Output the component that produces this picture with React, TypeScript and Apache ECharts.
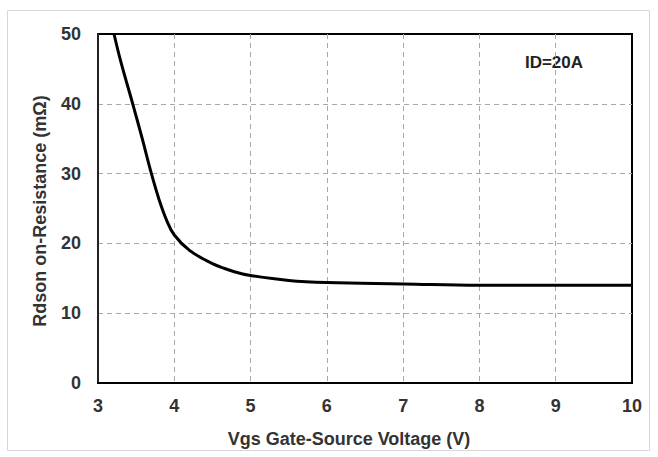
import React, { useEffect, useRef } from "react";
import * as echarts from "echarts";

const vgs = [3.21, 3.3, 3.455, 3.58, 3.7, 3.8, 3.9, 4.0, 4.2, 4.5, 4.8, 5.0, 5.5, 6.0, 7.0, 8.0, 9.0, 10.0];
const rdson = [50, 46, 40, 35, 30, 26.3, 23.3, 21.2, 19.0, 17.1, 15.9, 15.4, 14.7, 14.4, 14.2, 14.0, 14.0, 14.0];
const xTicks = [3, 4, 5, 6, 7, 8, 9, 10];
const yTicks = [0, 10, 20, 30, 40, 50];
const xTitle = "Vgs Gate-Source Voltage (V)";
const yTitle = "Rdson on-Resistance (mΩ)";
const note = "ID=20A";

export default function App() {
  const ref = useRef<HTMLDivElement>(null);
  useEffect(() => {
    if (!ref.current) return;
    const chart = echarts.init(ref.current, undefined, { renderer: "svg" });
    const font = "'Liberation Sans', Arial, sans-serif";
    const labelStyle = { color: "#333", fontSize: 18, fontWeight: "bold" as const, fontFamily: font };
    const split = { show: true, showMinLine: false, showMaxLine: false, lineStyle: { color: "#a8a8a8", type: [5, 4], width: 1 } };
    chart.setOption({
      animation: false,
      backgroundColor: "#fff",
      graphic: [
        {
          type: "rect",
          shape: { x: 7.5, y: 10.5, width: 642, height: 440 },
          style: { fill: "none", stroke: "#d8d8d8", lineWidth: 1 },
          silent: true,
        },
        {
          type: "text",
          x: 554,
          y: 62,
          style: { text: note, fill: "#222", font: `bold 17px ${font}`, align: "center", verticalAlign: "middle" },
        },
        {
          type: "text",
          x: 349,
          y: 439,
          style: { text: xTitle, fill: "#333", font: `bold 18px ${font}`, align: "center", verticalAlign: "middle" },
        },
        {
          type: "text",
          x: 40,
          y: 211,
          rotation: Math.PI / 2,
          style: { text: yTitle, fill: "#333", font: `bold 18px ${font}`, align: "center", verticalAlign: "middle" },
        },
      ],
      grid: { left: 98, top: 34, right: 26, bottom: 74, show: true, borderColor: "#000", borderWidth: 2, backgroundColor: "transparent" },
      xAxis: {
        type: "value",
        min: xTicks[0],
        max: xTicks[xTicks.length - 1],
        interval: 1,
        axisLine: { show: true, lineStyle: { color: "#000", width: 2 } },
        axisTick: { show: false },
        axisLabel: { ...labelStyle, margin: 14 },
        splitLine: split,
      },
      yAxis: {
        type: "value",
        min: yTicks[0],
        max: yTicks[yTicks.length - 1],
        interval: 10,
        axisLine: { show: true, lineStyle: { color: "#222", width: 2 } },
        axisTick: { show: false },
        axisLabel: { ...labelStyle, margin: 17 },
        splitLine: split,
      },
      series: [
        {
          type: "line",
          data: vgs.map((x, i) => [x, rdson[i]]),
          smooth: 0.4,
          showSymbol: false,
          lineStyle: { color: "#000", width: 3 },
          clip: true,
        },
      ],
    });
    return () => chart.dispose();
  }, []);
  return <div ref={ref} style={{ width: 658, height: 457, position: "absolute", left: 0, top: 0 }} />;
}
